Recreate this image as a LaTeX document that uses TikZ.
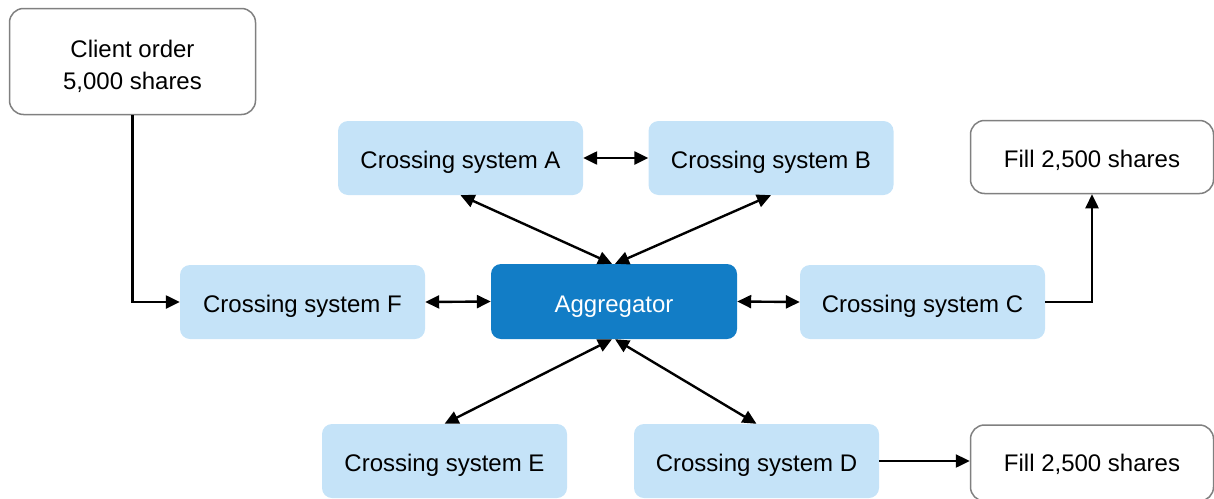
\documentclass[tikz,border=0pt]{standalone}
\usepackage{fontspec}
\setmainfont{Liberation Sans}
\usetikzlibrary{arrows.meta,calc}
\definecolor{lightbox}{HTML}{C5E3F8}
\definecolor{aggblue}{HTML}{127DC6}
\definecolor{greyline}{HTML}{808080}
\begin{document}
\begin{tikzpicture}[x=1pt,y=-1pt,
  every node/.style={font=\fontsize{24}{32}\selectfont, align=center, inner sep=0pt},
  lifted/.style={text height=21pt, text depth=0pt},
  sysbox/.style={lifted, fill=lightbox, draw=none, rounded corners=10pt, minimum width=245pt, minimum height=74pt},
  aggbox/.style={lifted, fill=aggblue, draw=none, rounded corners=10pt, minimum width=246pt, minimum height=75pt, text=white},
  outbox/.style={fill=white, draw=greyline, line width=1.5pt, rounded corners=14pt},
  conn/.style={line width=2.4pt, -{Triangle[length=14pt,width=13pt]}},
  biconn/.style={line width=2.4pt, {Triangle[length=14pt,width=13pt]}-{Triangle[length=14pt,width=13pt]}}
]
\useasboundingbox (0,0) rectangle (1214,498);
\node[outbox, minimum width=246pt, minimum height=106pt] (client) at (132.5,61.5) {};
\node (clienttext) at (132.5,66.5) {Client order\\5,000 shares};
\node[sysbox] (A) at (460.5,158) {Crossing system A};
\node[sysbox] (B) at (771,158) {Crossing system B};
\node[outbox, lifted, minimum width=243pt, minimum height=73pt] (fill1) at (1092,157) {Fill 2,500 shares};
\node[sysbox] (F) at (302.5,302) {Crossing system F};
\node[aggbox] (agg) at (614,301.5) {Aggregator};
\node[sysbox] (C) at (922.5,302) {Crossing system C};
\node[sysbox] (E) at (444.5,461) {Crossing system E};
\node[sysbox] (D) at (756.5,461) {Crossing system D};
\node[outbox, minimum width=243pt, minimum height=76pt] (fill2) at (1092,463) {};
\node[lifted] (fill2text) at (1092,461) {Fill 2,500 shares};

\draw[conn] (client.south) |- (F.west);
\draw[biconn] (A.east) -- (B.west);
\draw[biconn] (A.south) -- ([xshift=-2pt]agg.north);
\draw[biconn] (B.south) -- ([xshift=1pt]agg.north);
\draw[biconn] (F.east) -- (agg.west);
\draw[biconn] (agg.east) -- (C.west);
\draw[biconn] ([xshift=-2pt]agg.south) -- (E.north);
\draw[biconn] ([xshift=1pt]agg.south) -- (D.north);
\draw[conn] (C.east) -| (fill1.south);
\draw[conn] (D.east) -- (D.east -| fill2.west);
\end{tikzpicture}
\end{document}
